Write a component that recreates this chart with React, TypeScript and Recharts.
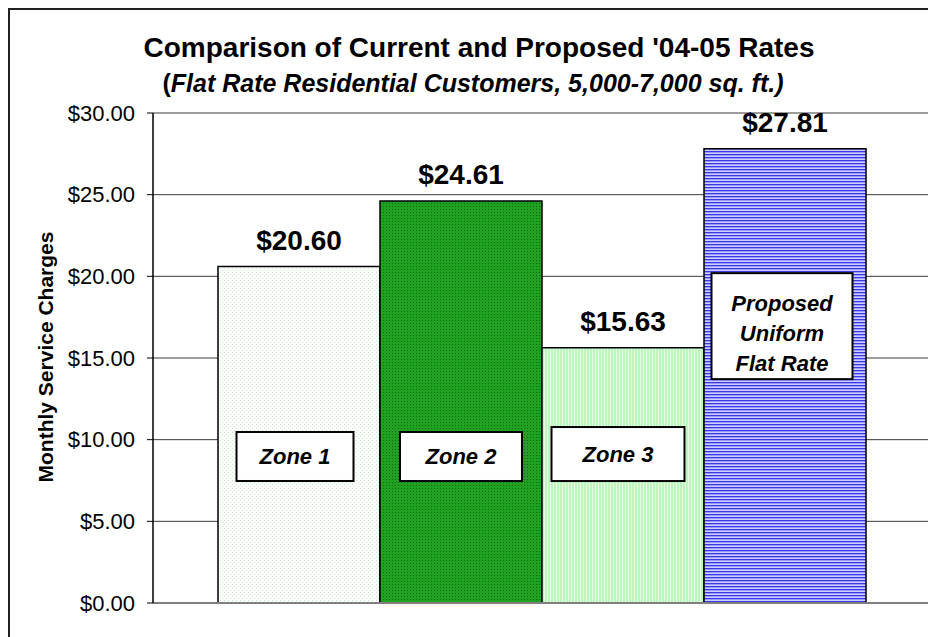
import { BarChart, Bar, XAxis, YAxis, CartesianGrid, Cell, LabelList } from 'recharts';

const zones = ['Zone 1', 'Zone 2', 'Zone 3', 'Proposed\nUniform\nFlat Rate'];
const rates = [20.6, 24.61, 15.63, 27.81];
const yTicks = [0, 5, 10, 15, 20, 25, 30];

const data = zones.map((zone, i) => ({ zone, rate: rates[i] }));

const FONT = '"Liberation Sans", Arial, sans-serif';
const patternIds = ['zone1Dots', 'zone2Dots', 'zone3Lines', 'flatStripes'];

// white callout boxes: size in px, centre given on the $ axis, nudge from bar centre
const callouts = [
  { w: 117, h: 49, at: 8.97, dx: -4, ty: 0 },
  { w: 122, h: 49, at: 8.97, dx: 0, ty: 0 },
  { w: 133, h: 54, at: 9.12, dx: -5, ty: 0 },
  { w: 141, h: 106, at: 16.95, dx: -3, ty: 7 },
];

const money = (v: number) => `$${Number(v).toFixed(2)}`;

function Callout(props: any) {
  const vb = props.viewBox ?? props;
  const { x, y, width, height } = vb;
  const i = zones.indexOf(props.value);
  if (i < 0) return null;
  const c = callouts[i];
  const perUnit = height / rates[i];
  const cy = y + height - c.at * perUnit;
  const cx = x + width / 2 + c.dx;
  const lines = String(props.value).split('\n');
  const gap = 30;
  return (
    <g>
      <rect x={cx - c.w / 2} y={cy - c.h / 2} width={c.w} height={c.h} fill="#fff" stroke="#000" strokeWidth={2} />
      {lines.map((line, k) => (
        <text
          key={k}
          x={cx}
          y={cy + c.ty + (k - (lines.length - 1) / 2) * gap + 8}
          textAnchor="middle"
          fontFamily={FONT}
          fontSize={22}
          fontWeight="bold"
          fontStyle="italic"
          fill="#000"
        >
          {line}
        </text>
      ))}
    </g>
  );
}

export default function App() {
  return (
    <div
      style={{
        position: 'relative',
        width: 926,
        height: 627,
        borderLeft: '2px solid #222',
        borderTop: '2px solid #222',
        background: '#fff',
      }}
    >
      <style>{'body{overflow:hidden}'}</style>
      <BarChart
        width={926}
        height={627}
        data={data}
        margin={{ top: 103, right: 0, bottom: 0, left: 0 }}
        barCategoryGap={0}
      >
        <defs>
          <pattern id="zone1Dots" width="4" height="4" patternUnits="userSpaceOnUse">
            <rect width="4" height="4" fill="#ffffff" />
            <rect x="0" y="0" width="1" height="1" fill="#b9f2b9" />
            <rect x="2" y="2" width="1" height="1" fill="#b9f2b9" />
          </pattern>
          <pattern id="zone2Dots" width="3" height="3" patternUnits="userSpaceOnUse">
            <rect width="3" height="3" fill="#21a121" />
            <rect x="1" y="1" width="1" height="1" fill="#106b10" />
          </pattern>
          <pattern id="zone3Lines" width="3" height="2" patternUnits="userSpaceOnUse">
            <rect width="3" height="2" fill="#bdf7bd" />
            <rect x="0" width="1" height="2" fill="#e4ffe4" />
          </pattern>
          <pattern id="flatStripes" width="4" height="3" patternUnits="userSpaceOnUse">
            <rect width="4" height="3" fill="#9a9aff" />
            <rect y="0" width="4" height="1" fill="#3838e6" />
            <rect y="2" width="4" height="1" fill="#cfcfff" />
          </pattern>
        </defs>
        <CartesianGrid vertical={false} stroke="#3a3a3a" />
        <XAxis
          dataKey="zone"
          tick={false}
          tickLine={false}
          height={34}
          axisLine={{ stroke: '#808080', strokeWidth: 2 }}
          padding={{ left: 65, right: 66 }}
        />
        <YAxis
          domain={[0, 30]}
          ticks={yTicks}
          width={143}
          tickSize={6}
          tickMargin={12}
          tickFormatter={money}
          tick={{ fill: '#000', fontSize: 22, fontFamily: FONT }}
          tickLine={{ stroke: '#000' }}
          axisLine={{ stroke: '#000', strokeWidth: 1.5 }}
        />
        <YAxis
          yAxisId="frame"
          orientation="right"
          domain={[0, 30]}
          width={4}
          tick={false}
          tickLine={false}
          axisLine={{ stroke: '#808080', strokeWidth: 2 }}
        />
        <Bar dataKey="rate" stroke="#000" strokeWidth={1.5} isAnimationActive={false}>
          {data.map((d, i) => (
            <Cell key={d.zone} fill={`url(#${patternIds[i]})`} />
          ))}
          <LabelList
            dataKey="rate"
            position="top"
            offset={17}
            formatter={money}
            fill="#000"
            fontSize={28}
            fontWeight="bold"
            fontFamily={FONT}
          />
          <LabelList dataKey="zone" content={Callout} />
        </Bar>
      </BarChart>
      <svg
        width={926}
        height={627}
        style={{ position: 'absolute', left: 0, top: 0, pointerEvents: 'none' }}
      >
        <text x={469} y={47} textAnchor="middle" fontFamily={FONT} fontSize={28} fontWeight="bold" fill="#000">
          Comparison of Current and Proposed '04-05 Rates
        </text>
        <text x={463} y={82} textAnchor="middle" fontFamily={FONT} fontSize={25} fontWeight="bold" fill="#000">
          (<tspan fontStyle="italic">Flat Rate Residential Customers, 5,000-7,000 sq. ft.)</tspan>
        </text>
        <text
          x={43}
          y={347}
          textAnchor="middle"
          transform="rotate(-90 43 347)"
          fontFamily={FONT}
          fontSize={21}
          fontWeight="bold"
          fill="#000"
        >
          Monthly Service Charges
        </text>
      </svg>
    </div>
  );
}
